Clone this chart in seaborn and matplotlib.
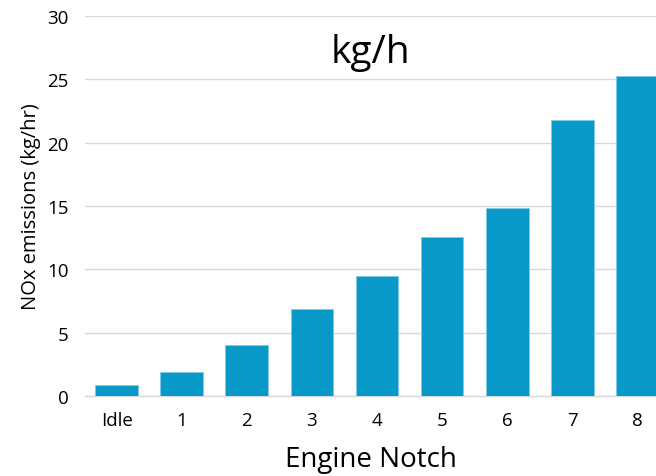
import matplotlib
matplotlib.use("Agg")
import matplotlib.pyplot as plt
import seaborn as sns
import pandas as pd

notches = ["Idle", "1", "2", "3", "4", "5", "6", "7", "8"]
nox_kg_per_hr = [0.87, 1.9, 4.05, 6.9, 9.5, 12.55, 14.85, 21.8, 25.3]
y_ticks = [0, 5, 10, 15, 20, 25, 30]

df = pd.DataFrame({"notch": notches, "nox": nox_kg_per_hr})

sns.set_theme(style="white")
plt.rcParams["font.family"] = ["Open Sans", "DejaVu Sans"]
plt.rcParams["text.color"] = "black"
plt.rcParams["axes.labelcolor"] = "black"

fig = plt.figure(figsize=(6.56, 4.77), dpi=100)
ax = fig.add_axes([85 / 656, 1 - 397 / 477, 1 - 85 / 656, (397 - 17) / 477])

sns.barplot(data=df, x="notch", y="nox", color="#0899C8", saturation=1,
            width=0.66, edgecolor="#7FCBE6", linewidth=0.6, ax=ax, zorder=3)

ax.set_ylim(0, 30)
ax.set_xlim(-0.49, 8.29)
ax.set_yticks(y_ticks)
ax.set_yticklabels([str(t) for t in y_ticks])
ax.yaxis.grid(True, color="#D9D9D9", linewidth=1.0, zorder=0)
ax.xaxis.grid(False)
for side in ["top", "right", "left"]:
    ax.spines[side].set_visible(False)
ax.spines["bottom"].set_color("#D9D9D9")
ax.spines["bottom"].set_linewidth(1.0)
ax.tick_params(axis="both", length=0, labelsize=13.5, colors="#000000")
ax.tick_params(axis="x", pad=11)
ax.tick_params(axis="y", pad=12)

ax.set_xlabel("Engine Notch", fontsize=20, labelpad=11.5)
ax.set_ylabel("NOx emissions (kg/hr)", fontsize=14.5, labelpad=4)
ax.text(0.5, 0.905, "kg/h", transform=ax.transAxes, ha="center", va="center",
        fontsize=28)

fig.savefig("out.png", dpi=100)
